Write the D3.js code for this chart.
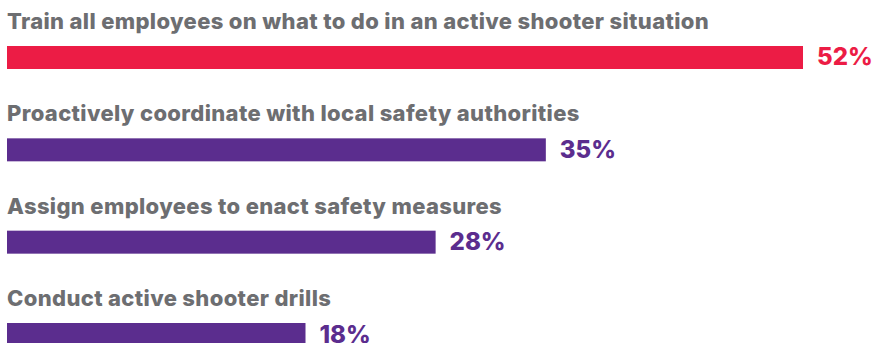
<!DOCTYPE html>
<html>
<head>
<meta charset="utf-8">
<script src="https://cdn.jsdelivr.net/npm/d3@7"></script>
<style>
  body { margin: 0; background: #fff; }
  svg { display: block; }
</style>
</head>
<body>
<svg class="chart"></svg>
<script>
const categories = [
  "Train all employees on what to do in an active shooter situation",
  "Proactively coordinate with local safety authorities",
  "Assign employees to enact safety measures",
  "Conduct active shooter drills"
];
// bar lengths (in percent)
const values = [52, 35.2, 28, 19.5];
const valueLabels = ["52%", "35%", "28%", "18%"];
const barColors = ["#ec1c45", "#5b2d8e", "#5b2d8e", "#5b2d8e"];

const width = 874;
const height = 343;

const svg = d3.select(".chart").attr("width", width).attr("height", height);

const x = d3.scaleLinear().domain([0, 52]).range([7, 803]);

const y = d3
  .scaleBand()
  .domain(categories)
  .range([46, 346])
  .paddingInner(0.751)
  .paddingOuter(0);

const rows = svg
  .selectAll(".row")
  .data(categories)
  .join("g")
  .attr("class", "row");

rows
  .append("text")
  .attr("x", 7)
  .attr("y", (d) => y(d) - 17)
  .attr("font-family", "Inter, Liberation Sans, sans-serif")
  .attr("font-weight", 800)
  .attr("font-size", "22px")
  .attr("letter-spacing", "0.35px")
  .attr("fill", "#6d6e71")
  .text((d) => d);

rows
  .append("rect")
  .attr("x", x(0))
  .attr("y", (d) => y(d))
  .attr("width", (d, i) => x(values[i]) - x(0))
  .attr("height", y.bandwidth())
  .attr("fill", (d, i) => barColors[i]);

rows
  .append("text")
  .attr("x", (d, i) => x(values[i]) + 14)
  .attr("y", (d) => y(d) + y.bandwidth() / 2 + 8)
  .attr("font-family", "Inter, Liberation Sans, sans-serif")
  .attr("font-weight", 800)
  .attr("font-size", "24px")
  .attr("fill", (d, i) => barColors[i])
  .text((d, i) => valueLabels[i]);
</script>
</body>
</html>
